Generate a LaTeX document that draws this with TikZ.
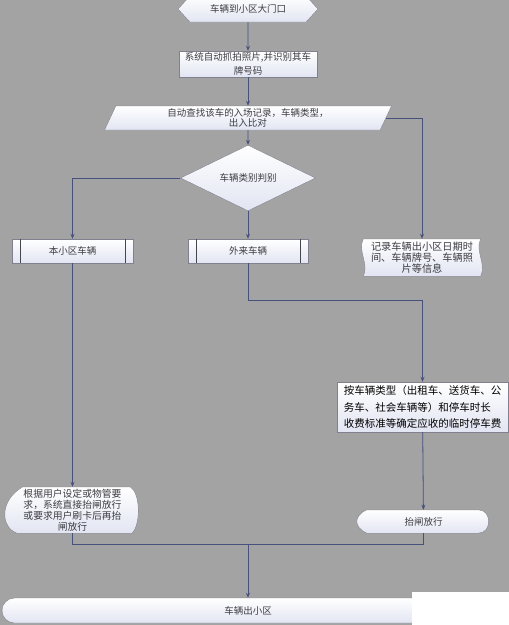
\documentclass[tikz,border=0pt]{standalone}
\usepackage{fontspec}
\newfontfamily\cjk{Noto Sans CJK SC}
\usetikzlibrary{shapes.geometric,shapes.symbols,arrows.meta,calc}

\definecolor{canvas}{RGB}{163,163,163}
\definecolor{boxlow}{RGB}{226,229,242}
\definecolor{edge}{RGB}{128,128,142}
\definecolor{flow}{RGB}{72,80,124}
\definecolor{ink}{RGB}{60,60,66}

\pgfdeclarelayer{back}
\pgfsetlayers{back,main}

\begin{document}
\begin{tikzpicture}[x=1pt,y=-1pt,
    txt/.style={text=ink, font=\cjk\fontsize{9.5}{11.5}\selectfont, align=center, inner sep=1pt},
    box/.style={txt, draw=edge, line width=0.4pt, top color=white, bottom color=boxlow},
    skin/.style={draw=edge, line width=0.4pt, top color=white, bottom color=boxlow},
    line/.style={draw=flow, line width=0.8pt},
    arr/.style={line, -{Stealth[length=5pt,width=4pt]}}]

  \begin{pgfonlayer}{back}
    \fill[canvas] (0,0) rectangle (509,625);
  \end{pgfonlayer}
  \useasboundingbox (0,0) rectangle (509,625);

  % main column
  \node[box, signal, signal to=west and east, signal pointer angle=95,
        minimum width=140, minimum height=26] (arrive) at (248,9) {车辆到小区大门口};
  \node[box, minimum width=138, minimum height=26, font=\cjk\fontsize{9.5}{14}\selectfont]
        (photo) at (248,64) {系统自动抓拍照片,并识别其车\\牌号码};
  \node[box, trapezium, trapezium left angle=62, trapezium right angle=118,
        trapezium stretches body, minimum width=287, minimum height=24,
        font=\cjk\fontsize{9.5}{10.5}\selectfont]
        (lookup) at (248,118) {自动查找该车的入场记录，车辆类型，\\出入比对};
  \node[box, diamond, minimum width=135, minimum height=35, inner sep=0pt]
        (judge) at (248,178) {车辆类别判别};

  % three branches
  \node[box, minimum width=121, minimum height=24] (own) at (72.5,251) {本小区车辆};
  \node[box, minimum width=120, minimum height=24] (guest) at (248,251) {外来车辆};
  \node[txt, minimum width=117, minimum height=37, font=\cjk\fontsize{10.2}{10.8}\selectfont]
        (record) at (422,257.5) {记录车辆出小区日期时\\间、车辆牌号、车辆照\\片等信息};
  \foreach \b in {own,guest}
    \draw[draw=edge!55!black, line width=0.8pt]
      ([xshift=9pt]\b.north west) -- ([xshift=9pt]\b.south west)
      ([xshift=-8pt]\b.north east) -- ([xshift=-8pt]\b.south east);

  \node[box, minimum width=171, minimum height=50, align=left, text=black,
        font=\cjk\fontsize{10.5}{16.5}\selectfont]
        (fee) at (422.5,407) {按车辆类型（出租车、送货车、公\\务车、社会车辆等）和停车时长\\收费标准等确定应收的临时停车费};

  \node[txt, minimum width=131, minimum height=46, font=\cjk\fontsize{9.8}{11}\selectfont]
        (rule) at (72.5,510) {根据用户设定或物管要\\求，系统直接抬闸放行\\或要求用户刷卡后再抬\\闸放行};
  \node[txt, minimum width=133, minimum height=23] (lift) at (423.5,521.5) {抬闸放行};

  \node[box, rounded corners=12.5pt, minimum width=492, minimum height=25] (exit) at (248,610.5) {车辆出小区};
  \fill[white] (412,592) rectangle (509,625);

  % odd shapes drawn behind their text
  \begin{pgfonlayer}{back}
    \path[skin] (record.north west) -- (record.north east)
      .. controls ($(record.north east)+(-6,12)$) and ($(record.south east)+(6,-12)$) .. (record.south east)
      -- (record.south west)
      .. controls ($(record.south west)+(6,-12)$) and ($(record.north west)+(-6,12)$) .. (record.north west) -- cycle;
    \path[skin] ($(rule.north west)+(16,0)$) -- ($(rule.north east)+(-8,0)$)
      .. controls ($(rule.north east)+(2,6)$) and ($(rule.south east)+(3,-10)$) .. ($(rule.south east)+(-6,0)$)
      -- ($(rule.south west)+(10,0)$)
      .. controls ($(rule.south west)+(-6,-6)$) and ($(rule.north west)+(-8,14)$) .. ($(rule.north west)+(16,0)$) -- cycle;
    \path[skin] ($(lift.north west)+(10,0)$) -- ($(lift.north east)+(-12,0)$)
      .. controls ($(lift.north east)+(2,0)$) and ($(lift.south east)+(2,0)$) .. ($(lift.south east)+(-12,0)$)
      -- ($(lift.south west)+(10,0)$)
      .. controls ($(lift.south west)+(3,-3)$) and ($(lift.west)+(0,4)$) .. (lift.west)
      .. controls ($(lift.west)+(0,-4)$) and ($(lift.north west)+(3,3)$) .. ($(lift.north west)+(10,0)$) -- cycle;
  \end{pgfonlayer}

  % connectors
  \coordinate (bend) at (422.5,300);
  \coordinate (join) at (248,544);
  \draw[arr] (arrive) -- (photo);
  \draw[arr] (photo) -- (lookup);
  \draw[arr] (lookup) -- (judge);
  \draw[arr] (judge.west) -| (own.north);
  \draw[arr] (judge) -- (guest);
  \draw[arr] (lookup.east) -| (record.north);
  \draw[arr] (guest.south) |- (bend) -- (fee.north);
  \draw[arr] (own) -- (rule);
  \draw[arr] (fee) -- (lift);
  \draw[line] (rule.south) |- (join);
  \draw[line] (lift.south) |- (join);
  \draw[arr] (join) -- (exit);
\end{tikzpicture}
\end{document}
